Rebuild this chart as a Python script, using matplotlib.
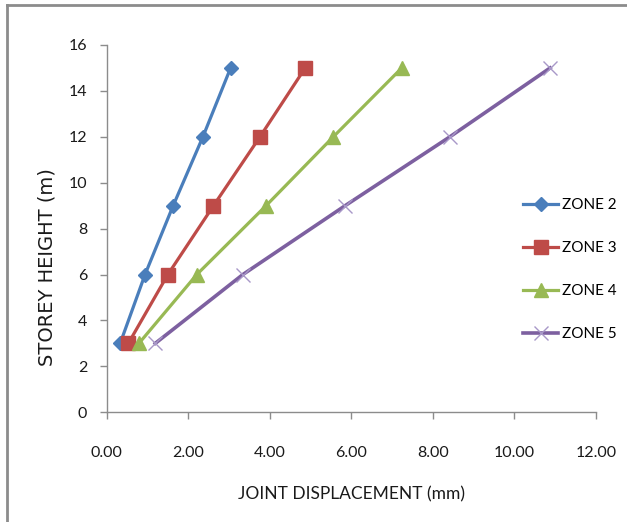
import matplotlib
matplotlib.use("Agg")
import matplotlib.pyplot as plt
from matplotlib.lines import Line2D

# storey heights (m) and joint displacements (mm) per seismic zone
heights = [3, 6, 9, 12, 15]
zone2 = [0.33, 0.94, 1.63, 2.36, 3.04]
zone3 = [0.53, 1.50, 2.62, 3.76, 4.87]
zone4 = [0.79, 2.21, 3.91, 5.56, 7.24]
zone5 = [1.19, 3.34, 5.85, 8.42, 10.88]
labels = ["ZONE 2", "ZONE 3", "ZONE 4", "ZONE 5"]

narrow = ["Lato", "DejaVu Sans"]

fig = plt.figure(figsize=(6.27, 5.22), dpi=100)
ax = fig.add_axes([0.1702, 0.2102, 0.780, 0.7036])

ax.plot(zone2, heights, color="#4A7EBB", lw=2.3, marker="D", ms=7.5,
        label=labels[0])
ax.plot(zone3, heights, color="#BE4B48", lw=2.3, marker="s", ms=9.5,
        label=labels[1])
ax.plot(zone4, heights, color="#98B954", lw=2.3, marker="^", ms=10,
        label=labels[2])
ax.plot(zone5, heights, color="#7D60A0", lw=2.6, marker="x", ms=10,
        mec="#A898C8", mew=1.0, label=labels[3])

ax.set_xlim(0, 12)
ax.set_ylim(0, 16)
ax.set_xticks(range(0, 13, 2))
ax.set_xticklabels([f"{v:.2f}" for v in range(0, 13, 2)])
ax.set_yticks(range(0, 17, 2))

for s in ["top", "right"]:
    ax.spines[s].set_visible(False)
for s in ["left", "bottom"]:
    ax.spines[s].set_color("#8C8C8C")
    ax.spines[s].set_linewidth(1.0)
ax.tick_params(colors="#8C8C8C", length=5, width=1.0, labelcolor="#1a1a1a")
for lab in ax.get_xticklabels() + ax.get_yticklabels():
    lab.set_family(narrow)
    lab.set_fontsize(11.5)
ax.tick_params(axis="x", pad=19)
ax.tick_params(axis="y", pad=9)

ax.set_xlabel("JOINT DISPLACEMENT (mm)", family=narrow, fontsize=12.5,
              color="#1a1a1a", labelpad=19)
fig.text(0.075, 0.4875, "STOREY HEIGHT (m)", rotation=90, ha="center",
         va="center", fontsize=14, color="#1a1a1a")

leg = fig.legend(loc="upper left", bbox_to_anchor=(0.8246, 0.6325),
                 frameon=False, handlelength=2.3, handletextpad=0.25,
                 labelspacing=1.9, borderaxespad=0,
                 prop={"family": narrow, "size": 11})

# outer chart border (only top and left visible in the crop)
fig.add_artist(Line2D([0.011, 1.0], [0.990, 0.990], color="#8C8C8C", lw=2))
fig.add_artist(Line2D([0.011, 0.011], [0.0, 0.990], color="#8C8C8C", lw=2))

fig.savefig("out.png", dpi=100)
